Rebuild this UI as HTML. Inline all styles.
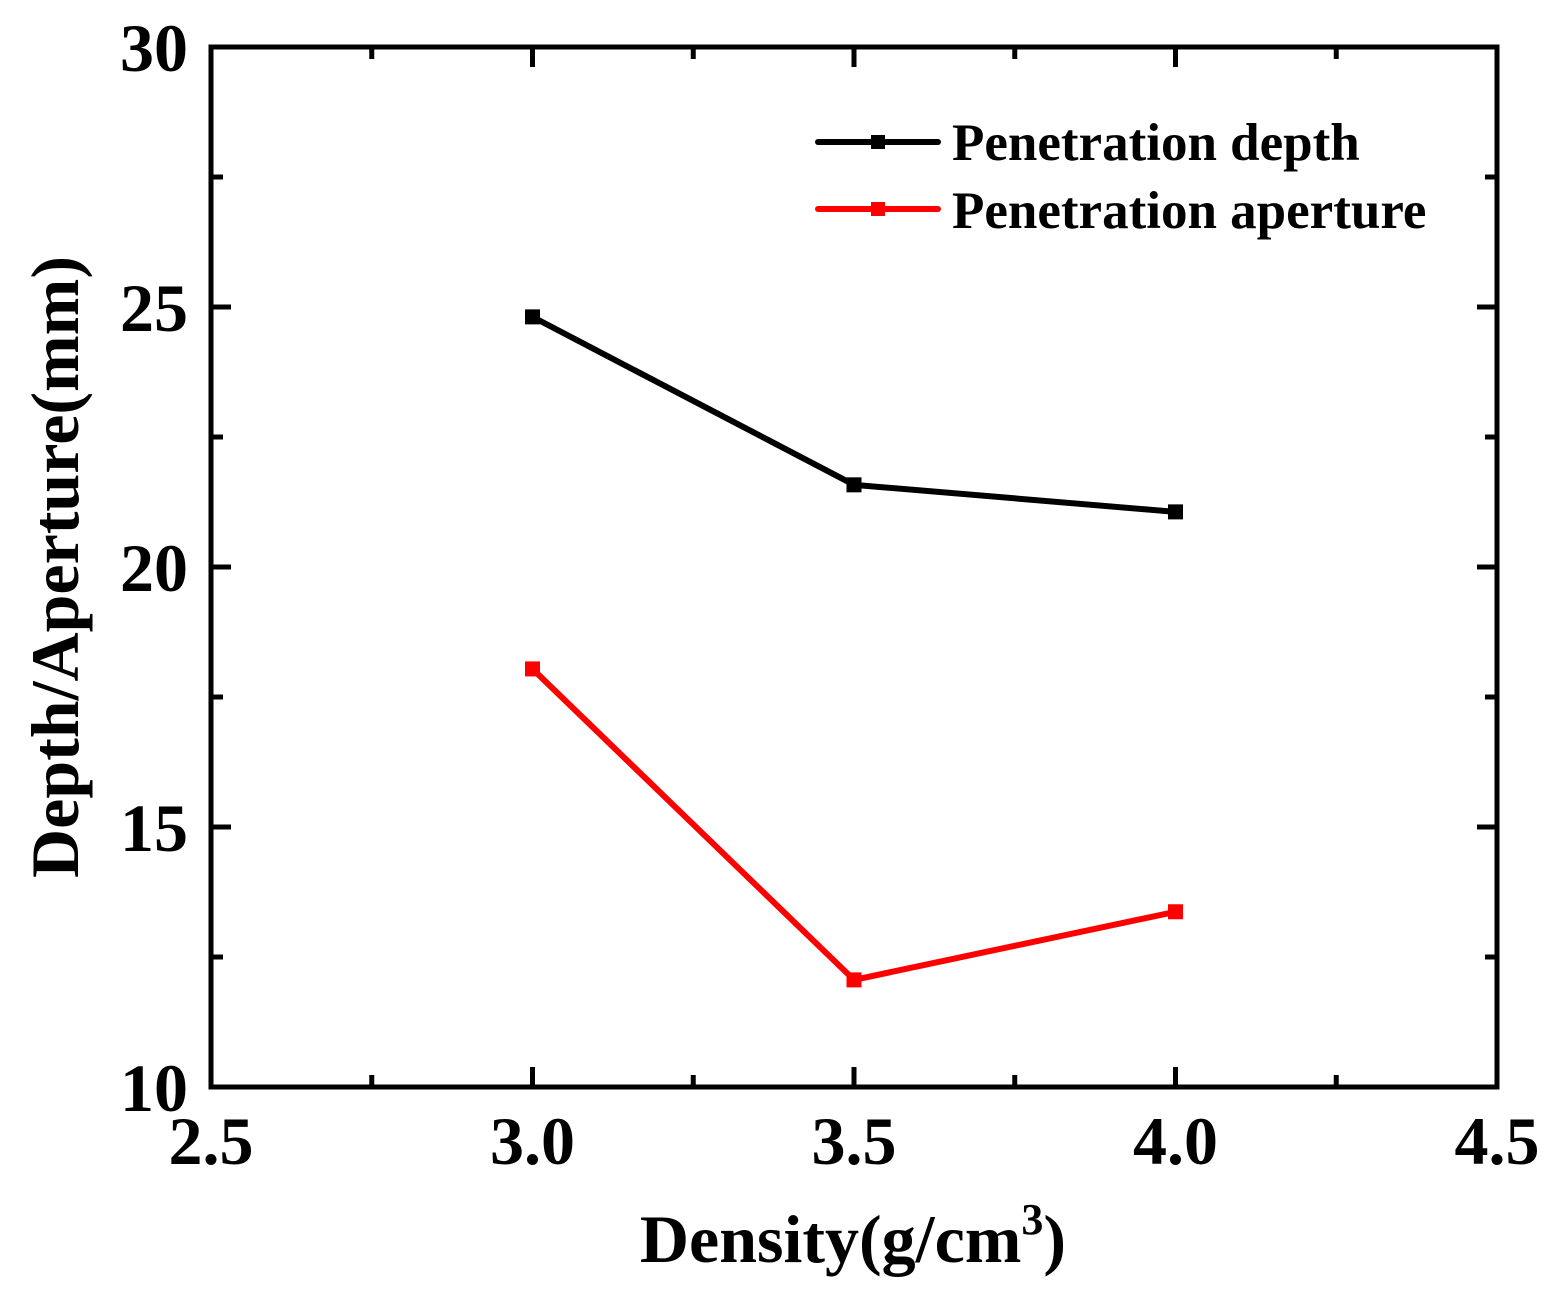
<!DOCTYPE html>
<html><head><meta charset="utf-8"><style>
html,body{margin:0;padding:0;background:#fff;}
svg{display:block;font-family:"Liberation Serif",serif;font-weight:bold;}
</style></head><body>
<svg id="chart" width="1558" height="1293" viewBox="0 0 1558 1293">
<g id="grid"></g>
<g id="series"></g>
<g id="legend">
  <line x1="818" y1="142" x2="938" y2="142" stroke="#000" stroke-width="6" stroke-linecap="round"/>
  <rect x="871" y="135" width="14" height="14" fill="#000"/>
  <text x="952" y="160" font-size="53">Penetration depth</text>
  <line x1="818" y1="209" x2="938" y2="209" stroke="#f00" stroke-width="6" stroke-linecap="round"/>
  <rect x="871" y="202" width="14" height="14" fill="#f00"/>
  <text x="952" y="228" font-size="53">Penetration aperture</text>
</g>
<text x="853" y="1262" font-size="68" text-anchor="middle">Density(g/cm<tspan dy="-28" font-size="44">3</tspan><tspan dy="28">)</tspan></text>
<text transform="translate(78,567) rotate(-90)" font-size="68" text-anchor="middle">Depth/Aperture(mm)</text>
</svg>
<script>
const categories=[3.0,3.5,4.0];
const depthValues=[24.81,21.58,21.06];
const apertureValues=[18.04,12.06,13.37];
const xTicks=[2.5,3.0,3.5,4.0,4.5];
const xTickLabels=["2.5","3.0","3.5","4.0","4.5"];
const yTicks=[10,15,20,25,30];
const yTickLabels=["10","15","20","25","30"];
const L=211,R=1497,T=47,B=1087;
const xs=v=>L+(v-2.5)/(4.5-2.5)*(R-L);
const ys=v=>B-(v-10)/(30-10)*(B-T);
const NS="http://www.w3.org/2000/svg";
const g=document.getElementById('grid'),s=document.getElementById('series');
function mk(tag,at,parent){const e=document.createElementNS(NS,tag);for(const k in at)e.setAttribute(k,at[k]);parent.appendChild(e);return e;}
for(let i=0;i<xTicks.length;i++){
  const x=xs(xTicks[i]);
  const t=mk('line',{x1:x,y1:B,x2:x,y2:B-20,stroke:'#000','stroke-width':5},g);
  
  
  mk('line',{x1:x,y1:T,x2:x,y2:T+20,stroke:'#000','stroke-width':5},g);
  if(i<xTicks.length-1){const m=xs((xTicks[i]+xTicks[i+1])/2);
    mk('line',{x1:m,y1:B,x2:m,y2:B-12,stroke:'#000','stroke-width':5},g);
    mk('line',{x1:m,y1:T,x2:m,y2:T+12,stroke:'#000','stroke-width':5},g);}
  const lb=mk('text',{x:x,y:1164,'font-size':68,'text-anchor':'middle'},g);
  lb.textContent=xTickLabels[i];
  
  
}
for(let i=0;i<yTicks.length;i++){
  const y=ys(yTicks[i]);
  const t=mk('line',{x1:L,y1:y,x2:L+20,y2:y,stroke:'#000','stroke-width':5},g);
  
  
  mk('line',{x1:R,y1:y,x2:R-20,y2:y,stroke:'#000','stroke-width':5},g);
  if(i<yTicks.length-1){const m=ys((yTicks[i]+yTicks[i+1])/2);
    mk('line',{x1:L,y1:m,x2:L+12,y2:m,stroke:'#000','stroke-width':5},g);
    mk('line',{x1:R,y1:m,x2:R-12,y2:m,stroke:'#000','stroke-width':5},g);}
  const lb=mk('text',{x:188,y:y+24,'font-size':68,'text-anchor':'end'},g);
  lb.textContent=yTickLabels[i];
  
  
}
const frame=mk('rect',{x:L,y:T,width:R-L,height:B-T,fill:'none',stroke:'#000','stroke-width':5},g);


function series(vals,color,name){
  const pts=categories.map((c,i)=>xs(c)+','+ys(vals[i])).join(' ');
  const pl=mk('polyline',{points:pts,fill:'none',stroke:color,'stroke-width':6,'stroke-linejoin':'round'},s);
  
  
  categories.forEach((c,i)=>{
    const r=mk('rect',{x:xs(c)-7.5,y:ys(vals[i])-7.5,width:15,height:15,fill:color},s);
    
    
  });
}
series(depthValues,'#000','depth');
series(apertureValues,'#f00','aperture');
</script>
</body></html>
